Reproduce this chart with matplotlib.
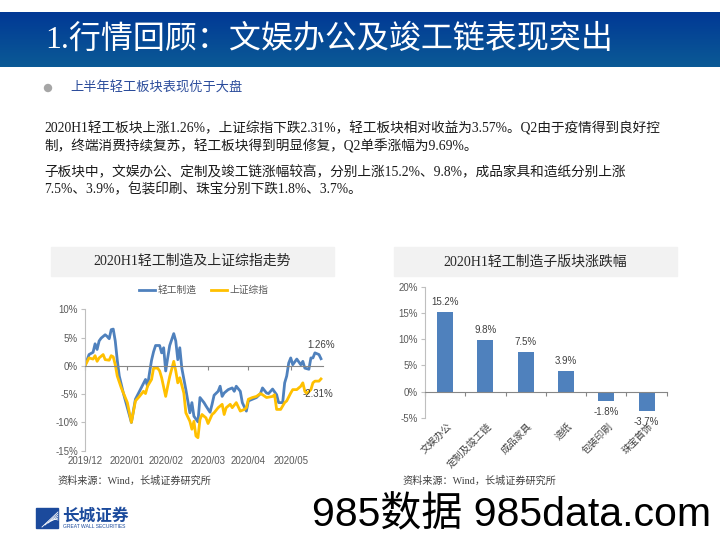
import numpy as np
import matplotlib.pyplot as plt
from matplotlib.patches import Rectangle, Ellipse
from matplotlib.colors import LinearSegmentedColormap

plt.rcParams['font.family'] = ['Liberation Sans', 'Noto Sans CJK SC']
SERIF = ['Liberation Serif', 'Noto Sans CJK SC']

# 2020H1 cumulative change (%), x = trading day index
qg_idx = [0, 2, 4, 5, 6, 7, 8, 10, 11, 12, 13, 14, 15, 16, 17, 19, 23, 25, 27, 30,
          31, 32, 33, 34, 35, 37, 38, 39, 40, 41, 42, 44, 45, 46, 47, 48, 50, 52, 53, 54,
          56, 57, 59, 60, 62, 63, 64, 66, 67, 68, 69, 71, 73, 74, 75, 77, 78, 80, 81, 83,
          85, 87, 88, 90, 91, 93, 95, 96, 98, 99, 100, 101, 102, 103, 105, 107, 108, 109, 111, 112,
          113, 114, 116, 117]
qg_val = [0, 2.0, 2.4, 3.9, 2.9, 4.4, 4.9, 5.5, 5.2, 4.8, 6.4, 6.5, 4.4, 1.0, -1.8, -4.8, -10.0, -5.9, -4.5, -2.4,
          -3.6, -1.2, 1.0, 2.5, 3.6, 3.6, 2.3, 3.2, -0.9, 1.4, 3.6, 5.7, 4.4, 1.1, 3.2, -0.4, -4.2, -8.3, -6.5, -8.9,
          -9.9, -5.6, -6.5, -7.1, -8.2, -6.8, -5.2, -4.5, -3.6, -5.4, -4.8, -4.2, -3.9, -4.5, -3.6, -4.5, -6.5, -8.0, -6.2, -5.9,
          -5.6, -4.9, -3.9, -4.8, -4.9, -4.1, -5.1, -6.5, -6.5, -3.0, -1.8, 0.5, 1.4, 0.2, 1.2, 0.2, 0.8, -0.4, -0.6, 1.4,
          1.4, 2.3, 2.0, 1.26]

sz_idx = [0, 2, 4, 5, 6, 7, 9, 10, 12, 13, 14, 15, 16, 18, 21, 23, 25, 27, 29, 30,
          31, 33, 34, 36, 37, 38, 40, 41, 42, 44, 45, 46, 47, 49, 50, 52, 53, 54, 55, 56,
          57, 58, 60, 61, 63, 64, 66, 68, 69, 70, 72, 73, 75, 77, 79, 80, 81, 83, 85, 87,
          88, 90, 93, 94, 95, 97, 99, 100, 102, 103, 105, 107, 108, 109, 110, 112, 113, 114, 116, 117]
sz_val = [0, 1.4, 1.2, 1.8, 0.8, 1.4, 2.0, 1.1, 1.0, 1.8, 1.6, 0.2, -1.8, -3.9, -6.5, -10.0, -6.2, -5.4, -4.5, -4.9,
          -3.6, -2.4, -0.4, -0.4, -0.9, -2.1, -5.4, -3.6, -1.9, 0.8, -0.9, -3.0, -2.1, -4.8, -8.3, -9.8, -11.2, -9.8, -12.4, -12.7,
          -9.5, -8.6, -9.2, -10.2, -8.6, -8.3, -7.4, -6.8, -8.6, -7.4, -6.8, -7.4, -6.5, -8.0, -7.7, -7.4, -5.9, -5.6, -5.4, -4.9,
          -5.1, -5.6, -5.4, -5.1, -7.7, -7.7, -6.5, -6.2, -4.8, -4.2, -4.2, -3.6, -3.0, -4.5, -4.9, -4.2, -3.0, -2.7, -2.7, -2.31]

date_ticks = [0, 21, 40, 61, 81, 102]
date_labels = ['2019/12', '2020/01', '2020/02', '2020/03', '2020/04', '2020/05']

sectors = ['文娱办公', '定制及竣工链', '成品家具', '造纸', '包装印刷', '珠宝首饰']
sector_chg = [15.2, 9.8, 7.5, 3.9, -1.8, -3.7]

BLUE = '#4F81BD'
GOLD = '#FFC000'
GRID = '#868686'
TXT = '#595959'


def px(x0, y0, x1, y1):
    """pixel box (top-left origin) -> figure rect"""
    return [x0 / 720, 1 - y1 / 540, (x1 - x0) / 720, (y1 - y0) / 540]


fig = plt.figure(figsize=(7.2, 5.4), dpi=100)

# header band
hax = fig.add_axes(px(0, 12, 720, 67))
cmap = LinearSegmentedColormap.from_list('hdr', ['#013995', '#0B5A96'])
hax.imshow(np.linspace(0, 1, 50).reshape(-1, 1), aspect='auto', cmap=cmap, extent=[0, 1, 0, 1])
hax.axis('off')
fig.text(45 / 720, 1 - 40 / 540, '1.行情回顾：文娱办公及竣工链表现突出', color='white',
         fontsize=23, family=SERIF, va='center', ha='left')

# bullet line
fig.patches.append(Ellipse((48 / 720, 1 - 88 / 540), 7 / 720, 7 / 540, transform=fig.transFigure,
                           color='#A6A6A6'))
fig.text(70 / 720, 1 - 88 / 540, '上半年轻工板块表现优于大盘', color='#2B4C9B', fontsize=9.5,
         va='center', ha='left')

body = ['2020H1轻工板块上涨1.26%，上证综指下跌2.31%，轻工板块相对收益为3.57%。Q2由于疫情得到良好控',
        '制，终端消费持续复苏，轻工板块得到明显修复，Q2单季涨幅为9.69%。',
        '子板块中，文娱办公、定制及竣工链涨幅较高，分别上涨15.2%、9.8%，成品家具和造纸分别上涨',
        '7.5%、3.9%，包装印刷、珠宝分别下跌1.8%、3.7%。']
for line, y in zip(body, [128, 146, 172, 190]):
    fig.text(44 / 720, 1 - y / 540, line, fontsize=9.85, family=SERIF, va='center', ha='left',
             color='#1A1A1A')

# chart title boxes
for (x0, x1), title in zip([(51, 334), (394, 677)],
                           ['2020H1轻工制造及上证综指走势', '2020H1轻工制造子版块涨跌幅']):
    fig.patches.append(Rectangle((x0 / 720, 1 - 276 / 540), (x1 - x0) / 720, 29 / 540,
                                 transform=fig.transFigure, color='#F2F2F2'))
    fig.text((x0 + x1) / 2 / 720, 1 - 261.5 / 540, title, fontsize=10, family=SERIF,
             ha='center', va='center', color='#262626')

# line chart
ax = fig.add_axes(px(85, 309.3, 323, 450.7))
ax.plot(qg_idx, qg_val, color=BLUE, lw=2, label='轻工制造')
ax.plot(sz_idx, sz_val, color=GOLD, lw=2, label='上证综指')
ax.set_xlim(0, 118)
ax.set_ylim(-15, 10)
ax.set_yticks([10, 5, 0, -5, -10, -15])
ax.set_yticklabels(['10%', '5%', '0%', '-5%', '-10%', '-15%'])
for s in ['top', 'right']:
    ax.spines[s].set_visible(False)
ax.spines['bottom'].set_position(('data', 0))
ax.spines['bottom'].set_color(GRID)
ax.spines['left'].set_color('#BFBFBF')
ax.set_xticks(date_ticks)
ax.tick_params(axis='x', length=3, color=GRID, labelbottom=False)
ax.tick_params(axis='y', length=3, color='#BFBFBF', labelsize=7, labelcolor=TXT, pad=2)
sec = ax.secondary_xaxis('bottom')
sec.spines['bottom'].set_visible(False)
sec.set_xticks(date_ticks)
sec.set_xticklabels(date_labels)
sec.tick_params(length=0, labelsize=7, labelcolor=TXT, pad=4)
ax.legend(loc='center', bbox_to_anchor=(0.5, 1.135), ncol=2, frameon=False, fontsize=7,
          handlelength=1.6, columnspacing=1.5, handletextpad=0.3, labelcolor=TXT)
ax.annotate('1.26%', (qg_idx[-1], qg_val[-1]), xytext=(0, 10), textcoords='offset points',
            fontsize=7, color='#404040', ha='center', va='center')
ax.annotate('-2.31%', (sz_idx[-1], sz_val[-1]), xytext=(-2, -11), textcoords='offset points',
            fontsize=7, color='#404040', ha='center', va='center')

# bar chart
bx = fig.add_axes(px(425, 286.7, 666.7, 417.7))
pos = np.arange(len(sectors))
bx.bar(pos, sector_chg, width=0.4, color=BLUE, zorder=2)
bx.set_xlim(-0.5, len(sectors) - 0.5)
bx.set_ylim(-5, 20)
bx.set_yticks([20, 15, 10, 5, 0, -5])
bx.set_yticklabels(['20%', '15%', '10%', '5%', '0%', '-5%'])
for s in ['top', 'right']:
    bx.spines[s].set_visible(False)
bx.spines['bottom'].set_position(('data', 0))
bx.spines['bottom'].set_color(GRID)
bx.spines['left'].set_color('#BFBFBF')
bx.set_xticks(np.arange(-0.5, len(sectors), 1))
bx.tick_params(axis='x', length=3, color=GRID, labelbottom=False)
bx.tick_params(axis='y', length=3, color='#BFBFBF', labelsize=7, labelcolor=TXT, pad=2)
bsec = bx.secondary_xaxis('bottom')
bsec.spines['bottom'].set_visible(False)
bsec.set_xticks(pos + 0.12)
bsec.set_xticklabels(sectors, rotation=45, ha='right', rotation_mode='anchor', va='center')
bsec.tick_params(length=0, labelsize=7, labelcolor='#404040', pad=5)
for p, v in zip(pos, sector_chg):
    bx.annotate('{:.1f}%'.format(v), (p, v), xytext=(0, 7 if v > 0 else -8),
                textcoords='offset points', ha='center', va='center', fontsize=7, color='#404040')

# sources
for x in [57, 402]:
    fig.text(x / 720, 1 - 481 / 540, '资料来源：Wind，长城证券研究所', fontsize=7.3, family=SERIF,
             color='#404040', va='center', ha='left')

# footer logo
fig.patches.append(Rectangle((36 / 720, 1 - 528 / 540), 22 / 720, 20 / 540,
                             transform=fig.transFigure, color='#1B4A9C'))
for k in range(5):
    fig.add_artist(plt.Line2D([(42 + 3 * k) / 720, (58) / 720],
                              [1 - (527 - 2 * k) / 540, 1 - (512 + 2 * k) / 540],
                              color='white', lw=0.6, transform=fig.transFigure))
fig.text(62 / 720, 1 - 516 / 540, '长城证券', fontsize=12, color='#1B4A9C', weight='bold',
         va='center', ha='left')
fig.text(63 / 720, 1 - 527 / 540, 'GREAT WALL SECURITIES', fontsize=3.6, color='#1B4A9C',
         va='center', ha='left')

# watermark
fig.text(312 / 720, 1 - 515 / 540, '985数据 985data.com', fontsize=29.5, color='black',
         va='center', ha='left')

fig.savefig('out.png', dpi=100)
